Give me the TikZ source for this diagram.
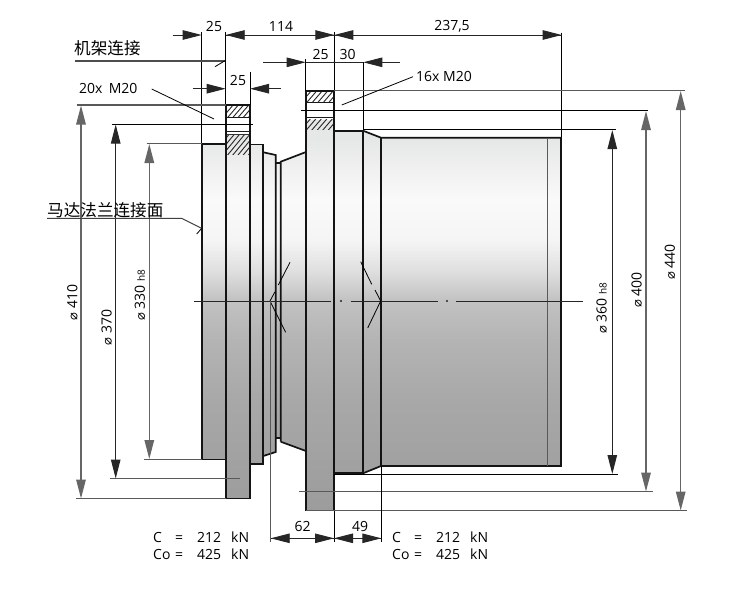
\documentclass[tikz,border=0pt]{standalone}
\usepackage{fontspec}
\setmainfont{Open Sans}
\newfontfamily\cjk{Noto Sans CJK SC}
\newfontfamily\dvs{DejaVu Sans}
\usetikzlibrary{arrows.meta}
\definecolor{gB}{HTML}{9C9C9C}
\definecolor{gC}{HTML}{A8A8A8}
\definecolor{gD}{HTML}{B4B4B4}
\definecolor{gE}{HTML}{C2C2C2}
\definecolor{gF}{HTML}{E0E0E0}
\definecolor{gG}{HTML}{F5F5F5}
\definecolor{gH}{HTML}{FAFAFA}
\definecolor{gI}{HTML}{E6E7E7}
\pgfdeclareverticalshading{bodyshade}{100bp}{
 color(0bp)=(gB);color(25bp)=(gB);color(38.2bp)=(gC);color(45.4bp)=(gD);color(50.1bp)=(gE);
 color(53.7bp)=(gF);color(57.3bp)=(gG);color(62bp)=(gH);color(69.2bp)=(gI);color(75bp)=(gI);color(100bp)=(gI)}
\newcommand{\dia}{{\dvs\fontsize{13}{13}\selectfont ⌀}}
\newcommand{\hpair}[2]{\makebox[22pt][l]{#1}\makebox[22pt][l]{=}\makebox[34pt][l]{#2}kN}
\tikzset{
 txt/.style={inner sep=0pt,font=\fontsize{14}{16}\selectfont},
 cjktxt/.style={inner sep=0pt,anchor=west,font=\cjk\fontsize{16.6}{18}\selectfont},
 vtxt/.style={txt,rotate=90},
 thin line/.style={line width=0.9pt,draw=black!85},
 dimtip/.style={-{Triangle[length=19pt,width=9.5pt]}},
 dim/.style={thin line,dimtip},
 dimv/.style={line width=1pt,draw=black!85,{Triangle[length=19pt,width=9.5pt]}-{Triangle[length=19pt,width=9.5pt]}},
 dimvg/.style={dimv,line width=1.4pt,draw=black!60},
 ext/.style={line width=0.8pt,draw=black},
 extg/.style={line width=1.2pt,draw=black!65},
 part/.style={line width=1.7pt,draw=black!92,line join=miter},
 hatchline/.style={line width=0.9pt,draw=black!85},
 bar/.style={line width=1.6pt,draw=black!90}
}
\begin{document}
\begin{tikzpicture}[x=1pt,y=-1pt]
\useasboundingbox (0,0) rectangle (741,597);
% ---------- body shading
\begin{scope}
 \clip (202,144)--(226,144)--(226,105)--(250,105)--(250,145)--(263.3,145)--(263.3,152.3)--(275.7,155)--(275.7,162.7)--(280.7,161.7)--(306,152)--(306,91)--(334,91)--(334,130.7)--(363,130.7)--(381,137.7)--(561,137.7)--(561,466)--(381,466)--(363,473.3)--(334,473.3)--(334,510.5)--(306,510.5)--(306,451)--(280.7,441.7)--(280.7,438)--(275.7,438)--(275.7,452)--(263.3,456)--(263.3,464.3)--(250,464.3)--(250,498.5)--(226,498.5)--(226,459.5)--(202,459.5)--cycle;
 \shade[shading=bodyshade] (190,91) rectangle (570,511);
\end{scope}
% ---------- flange bores and hatching
\fill[white] (226,105) rectangle (250,135);
\fill[white] (306,91) rectangle (334,120);
\begin{scope}
 \clip (227,106) rectangle (249,116);
 \foreach \k in {0,5.2,...,50} \draw[hatchline] (222+\k,118)--(234+\k,104);
\end{scope}
\begin{scope}
 \clip (227,135) rectangle (249,154);
 \foreach \k in {0,5.2,...,70} \draw[hatchline] (206+\k,156)--(225+\k,133);
\end{scope}
\begin{scope}
 \clip (307,92) rectangle (333,102);
 \foreach \k in {0,5.5,...,50} \draw[hatchline] (300+\k,104)--(312+\k,90);
\end{scope}
\begin{scope}
 \clip (307,119) rectangle (333,129);
 \foreach \k in {0,5.5,...,50} \draw[hatchline] (300+\k,131)--(312+\k,117);
\end{scope}
\draw[bar] (226,117.3)--(250,117.3);
\draw[bar] (226,131.4)--(250,131.4);
\draw[line width=0.8pt,draw=black!80] (226,134.6)--(250,134.6);
\draw[bar] (306,102.6)--(334,102.6);
\draw[bar] (306,117.6)--(334,117.6);
% ---------- part outlines
\draw[part] (202,144) rectangle (226,459.5);
\draw[part] (226,105) rectangle (250,498.5);
\draw[part] (250,144.6) rectangle (263.3,464.3);
\draw[part] (263.3,152.3)--(275.7,155)--(275.7,452)--(263.3,456);
\draw[part] (275.7,162.7)--(280.7,162.7);
\draw[part] (275.7,438)--(280.7,438);
\draw[part] (280.7,441.7)--(280.7,161.7)--(306,152);
\draw[part] (280.7,441.7)--(306,451);
\draw[part] (306,91) rectangle (334,510.5);
\draw[part] (334,130.7) rectangle (363,473.3);
\draw[part] (363,130.7)--(381,137.7)--(561,137.7)--(561,466)--(381,466)--(363,473.3);
\draw[part] (381,137.7)--(381,466);
\draw[line width=1.3pt,draw=black!65] (547.3,137.7)--(547.3,466);
% ---------- centre line and break marks
\draw[line width=1pt,draw=black!85] (194,301)--(330.7,301);
\fill[black!85] (341,301) circle (1.1pt);
\draw[line width=1pt,draw=black!85] (350.7,301)--(438,301);
\fill[black!85] (447,301) circle (1.1pt);
\draw[line width=1pt,draw=black!85] (456,301)--(583,301);
\draw[ext] (290,262.3)--(278.3,285);
\draw[ext] (275,291.7)--(270,301)--(285.7,332.3);
\draw[ext] (360.7,261.7)--(371.7,284.3);
\draw[ext] (375,290)--(380.7,301)--(367.7,328);
% ---------- extension lines, top
\draw[ext] (201.7,32)--(201.7,144);
\draw[ext] (225.7,32)--(225.7,105);
\draw[ext] (250,71.7)--(250,105);
\draw[ext] (305.7,59)--(305.7,91);
\draw[ext] (334.3,32)--(334.3,91);
\draw[ext] (363.3,62)--(363.3,130);
\draw[ext] (561.7,32.7)--(561.7,137);
\fill[black] (334.3,62.3) circle (1.1pt);
% ---------- horizontal dimensions, top
\draw[dim] (172.7,35)--(201.7,35);
\draw[thin line] (225.7,35)--(561.7,35);
\draw[dim] (250,35)--(225.7,35);
\draw[dim] (310,35)--(334.3,35);
\draw[dim] (358,35)--(334.3,35);
\draw[dim] (535,35)--(561.7,35);
\draw[dim] (192.7,88.7)--(225.7,88.7);
\draw[dim] (281,88.7)--(250,88.7);
\draw[dim] (263,62.3)--(305.7,62.3);
\draw[thin line] (305.7,62.3)--(363.3,62.3);
\draw[dim] (400,62.3)--(363.3,62.3);
% ---------- horizontal reference lines
\draw[extg] (76.7,105)--(226,105);
\draw[ext] (111.7,124)--(252.7,124);
\draw[extg] (146.7,143.7)--(202,143.7);
\draw[extg] (144,459.3)--(202,459.3);
\draw[line width=1.5pt,draw=black!65] (110,478.7)--(240,478.7);
\draw[extg] (76,498.7)--(226,498.7);
\draw[extg] (334,90.8)--(685,90.8);
\draw[ext] (301,110.7)--(648,110.7);
\draw[ext] (363,129.8)--(615.7,129.8);
\draw[ext] (334,474.3)--(618,474.3);
\draw[extg] (299,491.7)--(652.7,491.7);
\draw[extg] (306,510.7)--(686.7,510.7);
% ---------- vertical dimensions
\draw[dimvg] (81,105.5)--(81,498.5);
\draw[dimv] (115.7,124.5)--(115.7,478.5);
\draw[dimvg] (149.3,144)--(149.3,459);
\draw[dimv] (612.3,130)--(612.3,474);
\draw[dimvg] (646,111)--(646,491.5);
\draw[dimvg] (680.7,91)--(680.7,510.5);
% ---------- bottom dimensions
\draw[line width=0.8pt,draw=black!65] (270.7,301)--(270.7,542);
\draw[ext] (334,510.5)--(334,542);
\draw[ext] (381.3,466)--(381.3,542);
\draw[thin line] (270.7,538.3)--(381.3,538.3);
\draw[dim] (295,538.3)--(270.7,538.3);
\draw[dim] (310,538.3)--(334,538.3);
\draw[dim] (358,538.3)--(334,538.3);
\draw[dim] (358,538.3)--(381.3,538.3);
% ---------- leaders
\draw[line width=1.1pt,draw=black!70] (75,61)--(225,61);
\draw[ext] (215,66.7)--(225,60.7);
\draw[ext] (151.7,89)--(214,119);
\draw[ext] (413,76.7)--(341.7,105);
\draw[line width=1pt,draw=black!75] (47,218.3)--(181.7,218.3)--(201.7,228.3);
\draw[ext] (196.7,234)--(201.7,228.3);
% ---------- labels
\node[txt] (d25a) at (214,26) {25};
\node[txt] (d114) at (281,26) {114};
\node[txt] (d2375) at (452,26) {237,5};
\node[txt] (d25b) at (238,80) {25};
\node[txt] (d25c) at (320.5,54) {25};
\node[txt] (d30) at (347.5,54) {30};
\node[txt] (d62) at (302.7,526) {62};
\node[txt] (d49) at (360,526) {49};
\node[cjktxt] (frame) at (74,48) {机架连接};
\node[cjktxt] (motor) at (47,210) {马达法兰连接面};
\node[txt,anchor=west] (m20a) at (79,88) {20x\hspace{0.45em}M20};
\node[txt,anchor=west] (m20b) at (416,76) {16x M20};
\node[vtxt] (p410) at (72.3,302.5) {\dia\ 410};
\node[vtxt] (p370) at (106.7,327.5) {\dia\ 370};
\node[vtxt] (p330) at (140,295.5) {\dia\ 330 {\fontsize{10}{10}\selectfont h8}};
\node[vtxt] (p360) at (601.7,308.5) {\dia\ 360 {\fontsize{10}{10}\selectfont h8}};
\node[vtxt] (p400) at (636.7,290) {\dia\ 400};
\node[vtxt] (p440) at (670,262) {\dia\ 440};
\node[txt,anchor=west] (c1) at (153,537) {\hpair{C}{212}};
\node[txt,anchor=west] (c2) at (153,554) {\hpair{Co}{425}};
\node[txt,anchor=west] (c3) at (392,537) {\hpair{C}{212}};
\node[txt,anchor=west] (c4) at (392,554) {\hpair{Co}{425}};
\end{tikzpicture}
\end{document}
